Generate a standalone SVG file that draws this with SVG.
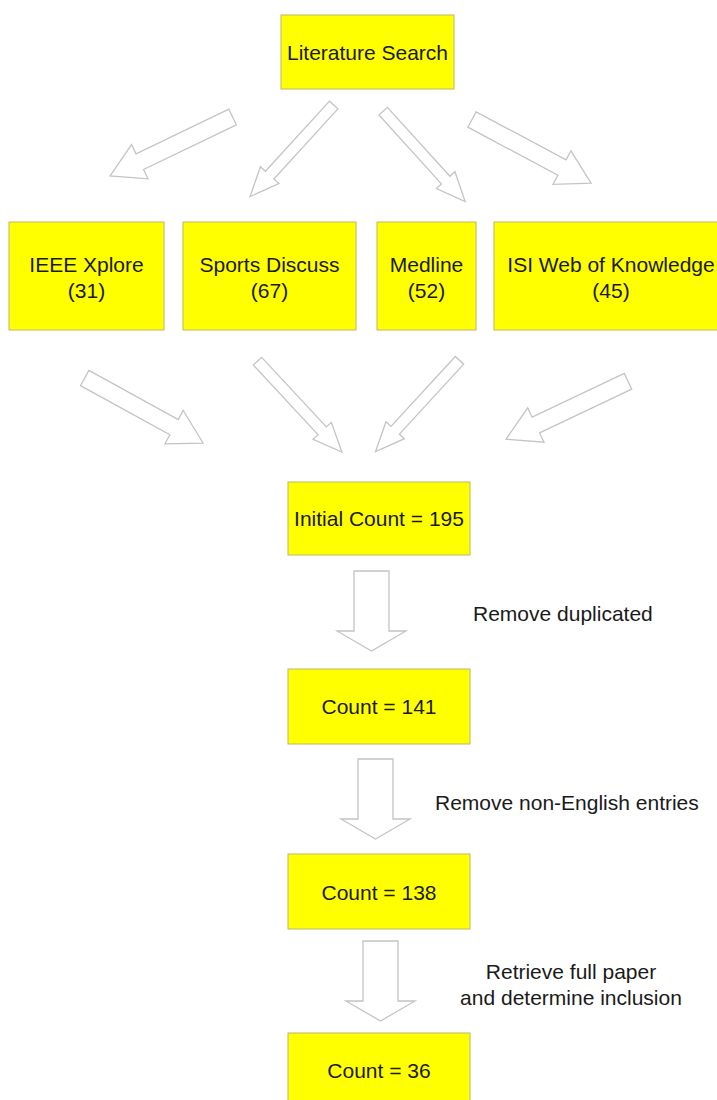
<svg xmlns="http://www.w3.org/2000/svg" width="717" height="1100" viewBox="0 0 717 1100">
<style>
.box{fill:#ffff00;stroke:#bdb76b;stroke-width:1}
.t{font-family:"Liberation Sans",Arial,sans-serif;font-size:21px;fill:#1a1a1a;text-anchor:middle}
.lbl{font-family:"Liberation Sans",Arial,sans-serif;font-size:21px;fill:#1a1a1a}
.arr{fill:#ffffff;stroke:#c4c4c4;stroke-width:1.3;stroke-linejoin:miter}
</style>
<rect width="717" height="1100" fill="#ffffff"/>
<g id="connectors">
<path class="arr" transform="translate(232.6,117) rotate(154.3)" d="M0,-8.7 L103,-8.7 L103,-19 L136,0 L103,19 L103,8.7 L0,8.7 Z"/>
<path class="arr" transform="translate(333.7,105) rotate(132.4)" d="M0,-5.7 L95,-5.7 L95,-12.5 L124,0 L95,12.5 L95,5.7 L0,5.7 Z"/>
<path class="arr" transform="translate(383.2,111.2) rotate(47.8)" d="M0,-5.7 L93,-5.7 L93,-12.5 L122,0 L93,12.5 L93,5.7 L0,5.7 Z"/>
<path class="arr" transform="translate(472,119.5) rotate(28.1)" d="M0,-8.7 L102,-8.7 L102,-19 L135,0 L102,19 L102,8.7 L0,8.7 Z"/>
<path class="arr" transform="translate(84.7,378) rotate(28.8)" d="M0,-8.7 L102,-8.7 L102,-19 L135,0 L102,19 L102,8.7 L0,8.7 Z"/>
<path class="arr" transform="translate(257.5,361.2) rotate(47.1)" d="M0,-5.7 L95,-5.7 L95,-12.5 L124,0 L95,12.5 L95,5.7 L0,5.7 Z"/>
<path class="arr" transform="translate(459.5,360.3) rotate(132.6)" d="M0,-5.7 L95,-5.7 L95,-12.5 L124,0 L95,12.5 L95,5.7 L0,5.7 Z"/>
<path class="arr" transform="translate(628,381.3) rotate(154.6)" d="M0,-8.7 L102,-8.7 L102,-19 L135,0 L102,19 L102,8.7 L0,8.7 Z"/>
<polygon class="arr" points="354,571 389,571 389,631 406,631 371.5,651 337,631 354,631"/>
<polygon class="arr" points="358,759 393,759 393,819 410,819 375.5,839 341,819 358,819"/>
<polygon class="arr" points="363,941 398,941 398,1001 415,1001 380.5,1021 346,1001 363,1001"/>
</g>
<g id="literature-search">
<rect class="box" x="281" y="15" width="173" height="74"/>
<text class="t" x="367.5" y="59.5">Literature Search</text>
</g>
<g id="ieee-xplore">
<rect class="box" x="9" y="222" width="155" height="108"/>
<text class="t" x="86.5" y="272">IEEE Xplore</text>
<text class="t" x="86.5" y="298">(31)</text>
</g>
<g id="sports-discuss">
<rect class="box" x="183" y="222" width="173" height="108"/>
<text class="t" x="269.5" y="272">Sports Discuss</text>
<text class="t" x="269.5" y="298">(67)</text>
</g>
<g id="medline">
<rect class="box" x="377" y="222" width="99" height="108"/>
<text class="t" x="426.5" y="272">Medline</text>
<text class="t" x="426.5" y="298">(52)</text>
</g>
<g id="isi-web-of-knowledge">
<rect class="box" x="494" y="222" width="234" height="108"/>
<text class="t" x="611" y="272">ISI Web of Knowledge</text>
<text class="t" x="611" y="298">(45)</text>
</g>
<g id="initial-count">
<rect class="box" x="288" y="482" width="182" height="73"/>
<text class="t" x="379" y="526">Initial Count = 195</text>
</g>
<g id="label-remove-duplicated">
<text class="lbl" x="473" y="620.5">Remove duplicated</text>
</g>
<g id="count-141">
<rect class="box" x="288" y="669" width="182" height="75"/>
<text class="t" x="379" y="714">Count = 141</text>
</g>
<g id="label-remove-non-english">
<text class="lbl" x="435" y="810">Remove non-English entries</text>
</g>
<g id="count-138">
<rect class="box" x="288" y="854" width="182" height="75"/>
<text class="t" x="379" y="899.5">Count = 138</text>
</g>
<g id="label-retrieve">
<text class="t" x="571" y="978.5">Retrieve full paper</text>
<text class="t" x="571" y="1004.5">and determine inclusion</text>
</g>
<g id="count-36">
<rect class="box" x="288" y="1033" width="182" height="75"/>
<text class="t" x="379" y="1077.5">Count = 36</text>
</g>
</svg>
